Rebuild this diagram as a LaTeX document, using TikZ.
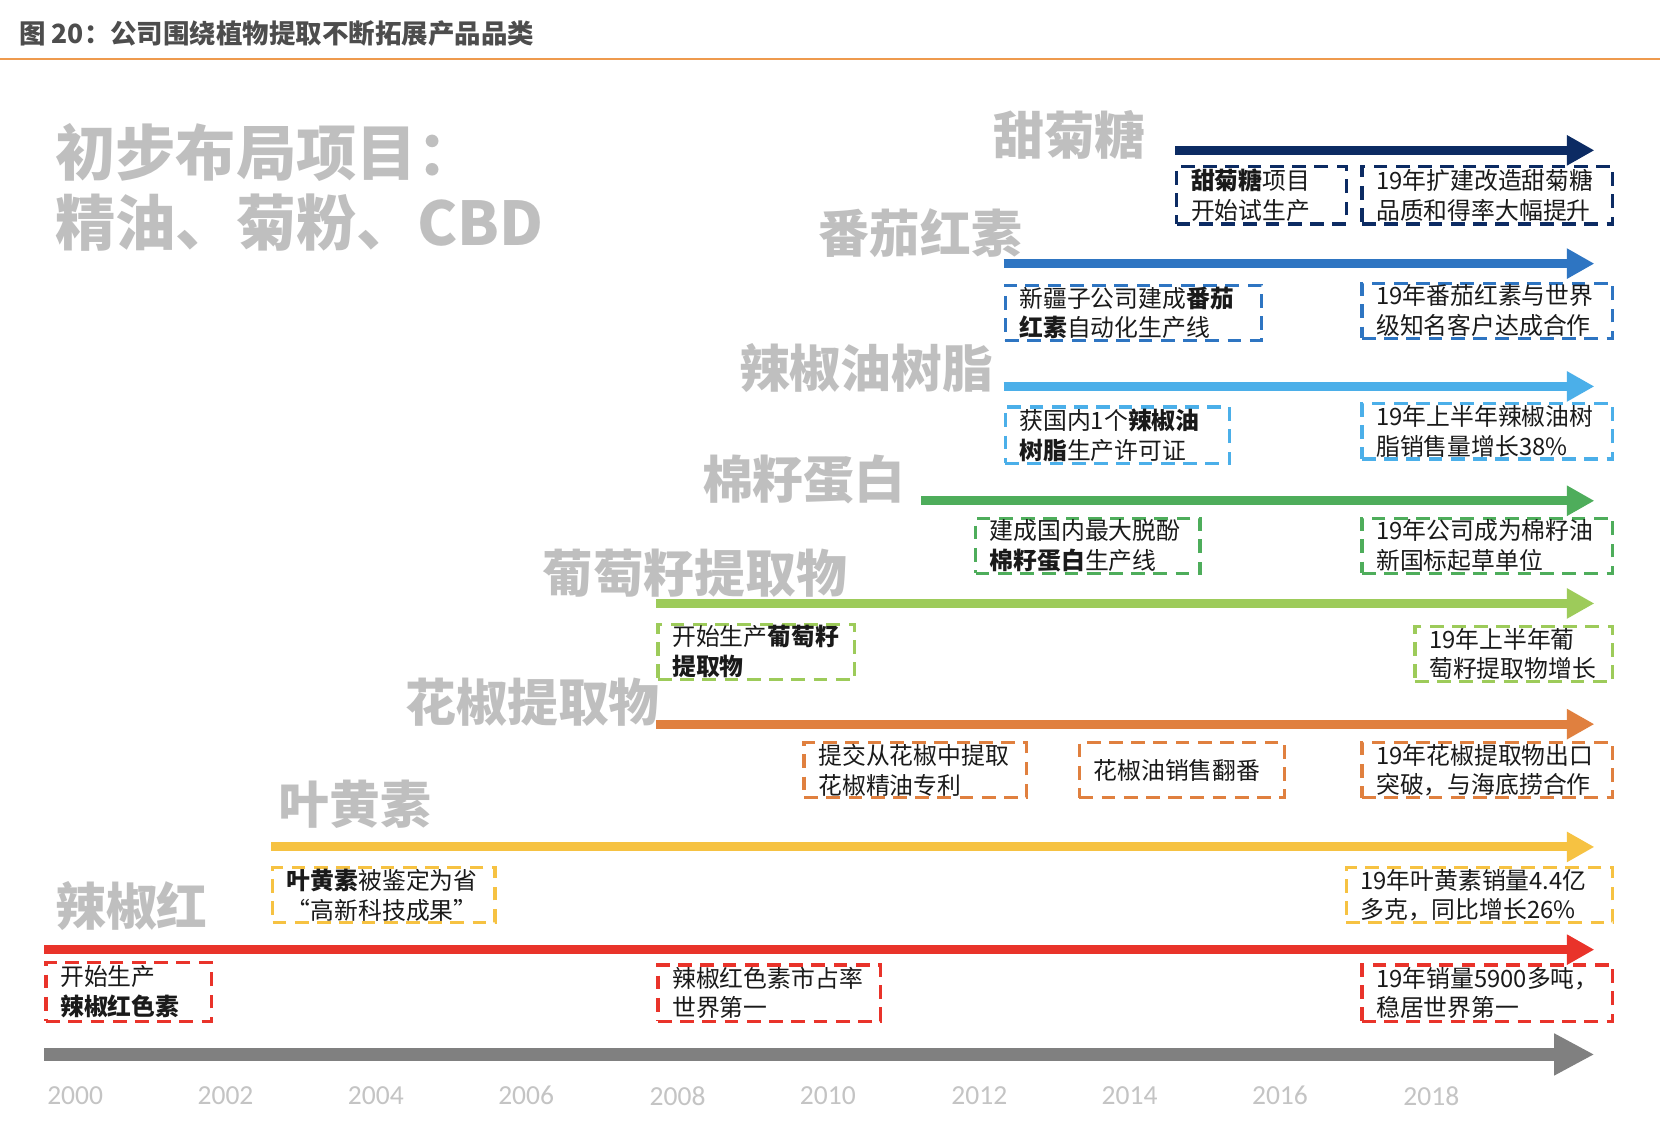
\documentclass[tikz,border=0pt]{standalone}
\usepackage{fontspec}
\setmainfont{Noto Sans CJK SC}
\newfontfamily\yrfont{Carlito}
\usetikzlibrary{arrows.meta}
\definecolor{navyc}{HTML}{0C2B63}
\definecolor{bluec}{HTML}{2E75C2}
\definecolor{lbluec}{HTML}{4BAFE9}
\definecolor{greenc}{HTML}{4EAD5B}
\definecolor{lgreenc}{HTML}{9DCB5A}
\definecolor{orangec}{HTML}{E0803F}
\definecolor{yellowc}{HTML}{F6C242}
\definecolor{redc}{HTML}{E9332A}
\definecolor{axisc}{HTML}{808080}
\definecolor{labgray}{HTML}{BFBFBF}
\definecolor{yeargray}{HTML}{C4C4C4}
\definecolor{titlec}{HTML}{4D4D4D}
\definecolor{rulec}{HTML}{EE9A4D}
\definecolor{txtc}{HTML}{1A1A1A}
\newcommand\bxfont{\fontsize{22.5}{28}\selectfont}
\newcommand\blfont{\fontsize{48}{56}\selectfont\bfseries}
\newcommand\hdfont{\fontsize{57}{67}\selectfont\bfseries}
\begin{document}
\begin{tikzpicture}[x=1pt,y=-1pt,
  arr/.style={draw=#1, line width=8.5pt, -{Triangle[length=26pt,width=27pt]}},
  axisarr/.style={draw=axisc, line width=12.5pt, -{Triangle[length=38pt,width=37pt]}},
  box/.style={draw=#1, line width=3pt, dash pattern=on 13pt off 8pt, anchor=north west,
    inner xsep=13.5pt, inner ysep=0pt, align=left, font=\bxfont, text=txtc},
  biglab/.style={anchor=west, inner sep=0pt, font=\blfont, text=labgray},
  yearlab/.style={inner sep=0pt, font=\yrfont\fontsize{26}{28}\selectfont, text=yeargray},
]
\fill[white] (0,0) rectangle (1568,1082);
\useasboundingbox (0,0) rectangle (1568,1082);

% title and rule
\node[anchor=west, inner sep=0pt, font=\fontsize{25}{30}\selectfont\bfseries, text=titlec] (title) at (18,32) {图 20：公司围绕植物提取不断拓展产品品类};
\coordinate (ruleL) at (0,56);
\coordinate (ruleR) at (1568,56);
\draw[rulec, line width=1.5pt] (ruleL) -- (ruleR);

% header
\node[anchor=west, inner sep=0pt, font=\hdfont, text=labgray, align=left] (head) at (52,177) {初步布局项目：\\精油、菊粉、CBD};

% product labels
\node[biglab] (lab1) at (938,127) {甜菊糖};
\node[biglab] (lab2) at (773,220) {番茄红素};
\node[biglab] (lab3) at (698,348) {辣椒油树脂};
\node[biglab] (lab4) at (663,453) {棉籽蛋白};
\node[biglab] (lab5) at (512,541) {葡萄籽提取物};
\node[biglab] (lab6) at (383,663) {花椒提取物};
\node[biglab] (lab7) at (263,760) {叶黄素};
\node[biglab] (lab8) at (52,856) {辣椒红};

% arrows
\coordinate (a1L) at (1110,142); \coordinate (a1R) at (1506,142);
\coordinate (a2L) at (948,249);  \coordinate (a2R) at (1506,249);
\coordinate (a3L) at (948,365);  \coordinate (a3R) at (1506,365);
\coordinate (a4L) at (870,473);  \coordinate (a4R) at (1506,473);
\coordinate (a5L) at (620,570);  \coordinate (a5R) at (1506,570);
\coordinate (a6L) at (620,684);  \coordinate (a6R) at (1506,684);
\coordinate (a7L) at (256,800);  \coordinate (a7R) at (1506,800);
\coordinate (a8L) at (42,897);   \coordinate (a8R) at (1506,897);
\coordinate (a9L) at (42,996);   \coordinate (a9R) at (1506,996);
\draw[arr=navyc] (a1L) -- (a1R);
\draw[arr=bluec] (a2L) -- (a2R);
\draw[arr=lbluec] (a3L) -- (a3R);
\draw[arr=greenc] (a4L) -- (a4R);
\draw[arr=lgreenc] (a5L) -- (a5R);
\draw[arr=orangec] (a6L) -- (a6R);
\draw[arr=yellowc] (a7L) -- (a7R);
\draw[arr=redc] (a8L) -- (a8R);
\draw[axisarr] (a9L) -- (a9R);

% boxes
\node[box=navyc, text width=133pt, minimum height=54pt] (s1) at (1110,156) {\textbf{甜菊糖}项目\\开始试生产};
\node[box=navyc, text width=210pt, minimum height=54pt] (s2) at (1285,156) {19年扩建改造甜菊糖\\品质和得率大幅提升};

\node[box=bluec, text width=215pt, minimum height=52pt] (f1) at (948,268) {新疆子公司建成\textbf{番茄}\\\textbf{红素}自动化生产线};
\node[box=bluec, text width=210pt, minimum height=52pt] (f2) at (1285,266) {19年番茄红素与世界\\级知名客户达成合作};

\node[box=lbluec, text width=185pt, minimum height=53pt] (l1) at (948,383) {获国内1个\textbf{辣椒油}\\\textbf{树脂}生产许可证};
\node[box=lbluec, text width=210pt, minimum height=52pt] (l2) at (1285,380) {19年上半年辣椒油树\\脂销售量增长38\%};

\node[box=greenc, text width=185pt, minimum height=52pt] (m1) at (920,488) {建成国内最大脱酚\\\textbf{棉籽蛋白}生产线};
\node[box=greenc, text width=210pt, minimum height=52pt] (m2) at (1285,488) {19年公司成为棉籽油\\新国标起草单位};

\node[box=lgreenc, text width=159pt, minimum height=52pt] (g1) at (620,588) {开始生产\textbf{葡萄籽}\\\textbf{提取物}};
\node[box=lgreenc, text width=160pt, minimum height=52pt] (g2) at (1335,590) {19年上半年葡\\萄籽提取物增长};

\node[box=orangec, text width=183pt, minimum height=52pt] (h1) at (758,700) {提交从花椒中提取\\花椒精油专利};
\node[box=orangec, text width=167pt, minimum height=52pt] (h2) at (1018,700) {花椒油销售翻番};
\node[box=orangec, text width=210pt, minimum height=52pt] (h3) at (1285,700) {19年花椒提取物出口\\突破，与海底捞合作};

\node[box=yellowc, text width=183pt, minimum height=52pt] (y1) at (256,818) {\textbf{叶黄素}被鉴定为省\\“高新科技成果”};
\node[box=yellowc, text width=225pt, minimum height=52pt] (y2) at (1270,818) {19年叶黄素销量4.4亿\\多克，同比增长26\%};

\node[box=redc, text width=129pt, minimum height=55pt] (r1) at (42,908) {开始生产\\\textbf{辣椒红色素}};
\node[box=redc, text width=183pt, minimum height=53pt] (r2) at (620,910) {辣椒红色素市占率\\世界第一};
\node[box=redc, text width=210pt, minimum height=53pt] (r3) at (1285,910) {19年销量5900多吨，\\稳居世界第一};

% years
\node[yearlab] (y2000) at (71,1035) {2000};
\node[yearlab] (y2002) at (213,1035) {2002};
\node[yearlab] (y2004) at (355,1035) {2004};
\node[yearlab] (y2006) at (497,1035) {2006};
\node[yearlab] (y2008) at (640,1035) {2008};
\node[yearlab] (y2010) at (782,1035) {2010};
\node[yearlab] (y2012) at (925,1035) {2012};
\node[yearlab] (y2014) at (1067,1035) {2014};
\node[yearlab] (y2016) at (1209,1035) {2016};
\node[yearlab] (y2018) at (1352,1035) {2018};
\end{tikzpicture}
\end{document}
